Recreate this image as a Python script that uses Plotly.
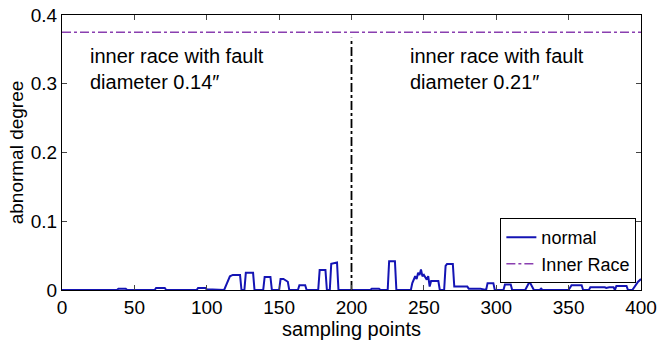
import plotly.graph_objects as go

# Data (vertices of the "normal" polyline)
normal_x = [0, 38, 39, 44, 45, 64, 65, 71, 72, 93, 94, 99, 100, 106, 107,
            112, 114, 116, 118, 123, 124, 126, 127, 132, 133, 139, 140, 144, 145,
            150, 151, 153, 156, 157, 163, 164, 168, 169, 177, 178, 182, 183,
            185, 186, 190, 191, 194, 200,
            213, 214, 219, 220, 225, 226, 230, 231, 241, 242, 244, 245, 246, 247,
            248, 249, 250, 252, 253, 254, 255, 260, 261, 264, 265, 266, 270, 271,
            273, 280, 281, 289, 293, 294, 298, 299, 305, 306, 310, 311, 320, 323,
            326, 330, 331, 332, 350, 352, 359, 360, 364, 365, 375, 376, 378, 381,
            382, 383, 390, 391, 394, 398, 400]
normal_y = [0, 0, 0.002, 0.002, 0, 0, 0.003, 0.003, 0, 0, 0.003, 0.003, 0.001, 0.001, 0,
            0, 0.01, 0.02, 0.022, 0.022, 0, 0, 0.025, 0.025, 0, 0, 0.019, 0.019, 0,
            0, 0.016, 0.016, 0.012, 0, 0, 0.007, 0.007, 0, 0, 0.029, 0.029, 0,
            0, 0.038, 0.04, 0, 0, 0,
            0, 0.002, 0.002, 0, 0, 0.042, 0.042, 0, 0, 0.01, 0.02, 0.016, 0.025, 0.022,
            0.03, 0.02, 0.022, 0.015, 0.02, 0.005, 0.013, 0.013, 0, 0, 0.035, 0.038, 0.038, 0.005,
            0.005, 0.005, 0.002, 0.002, 0, 0.01, 0.01, 0, 0, 0.008, 0.008, 0, 0, 0.012,
            0, 0, 0.002, 0, 0, 0.007, 0.007, 0, 0, 0.004, 0.004, 0.003, 0.004, 0.004,
            0, 0.006, 0.006, 0, 0, 0.012, 0.016]

inner_race_x = [0, 400]
inner_race_y = [0.375, 0.375]

divider_x = [200, 200]
divider_y = [0, 0.367]

x_ticks = [0, 50, 100, 150, 200, 250, 300, 350, 400]
y_ticks = [0, 0.1, 0.2, 0.3, 0.4]
y_tick_labels = ["0", "0.1", "0.2", "0.3", "0.4"]

ann_texts = ["inner race with fault<br>diameter 0.14\u2033",
             "inner race with fault<br>diameter 0.21\u2033"]
ann_x = [18, 239]
ann_y = [0.322, 0.322]

FONT = "Liberation Sans, Arial, sans-serif"

fig = go.Figure()
fig.add_trace(go.Scatter(x=normal_x, y=normal_y, mode="lines", name="normal",
                         line=dict(color="#1414b4", width=2)))
fig.add_trace(go.Scatter(x=inner_race_x, y=inner_race_y, mode="lines", name="Inner Race",
                         line=dict(color="#8a3fb0", width=1.5, dash="dashdot")))
fig.add_trace(go.Scatter(x=divider_x, y=divider_y, mode="lines", showlegend=False,
                         line=dict(color="black", width=1.8, dash="dashdot")))

for t, xx, yy in zip(ann_texts, ann_x, ann_y):
    fig.add_annotation(x=xx, y=yy, text=t, showarrow=False, xanchor="left", yanchor="middle",
                       align="left", font=dict(family=FONT, size=20, color="black"))

fig.update_layout(
    width=659, height=340,
    margin=dict(l=62, r=18, t=15, b=50),
    paper_bgcolor="white", plot_bgcolor="white",
    font=dict(family=FONT, size=19, color="black"),
    legend=dict(x=0.992, y=0.025, xanchor="right", yanchor="bottom",
                bgcolor="white", bordercolor="black", borderwidth=1,
                font=dict(family=FONT, size=18), itemwidth=30,
                tracegroupgap=0),
    showlegend=True,
)
fig.update_xaxes(range=[0, 400], tickvals=x_ticks, ticks="inside", ticklen=5,
                 showline=True, linecolor="black", linewidth=1, mirror="ticks",
                 showgrid=False, zeroline=False, automargin=False,
                 title=dict(text="sampling points", font=dict(size=20), standoff=0),
                 tickfont=dict(size=19))
fig.update_yaxes(range=[0, 0.4], tickvals=y_ticks, ticktext=y_tick_labels, ticks="inside",
                 ticklen=5, showline=True, linecolor="black", linewidth=1, mirror="ticks",
                 showgrid=False, zeroline=False, automargin=False,
                 title=dict(text="abnormal degree", font=dict(size=19), standoff=2),
                 tickfont=dict(size=19))

fig.write_html("out.html")
